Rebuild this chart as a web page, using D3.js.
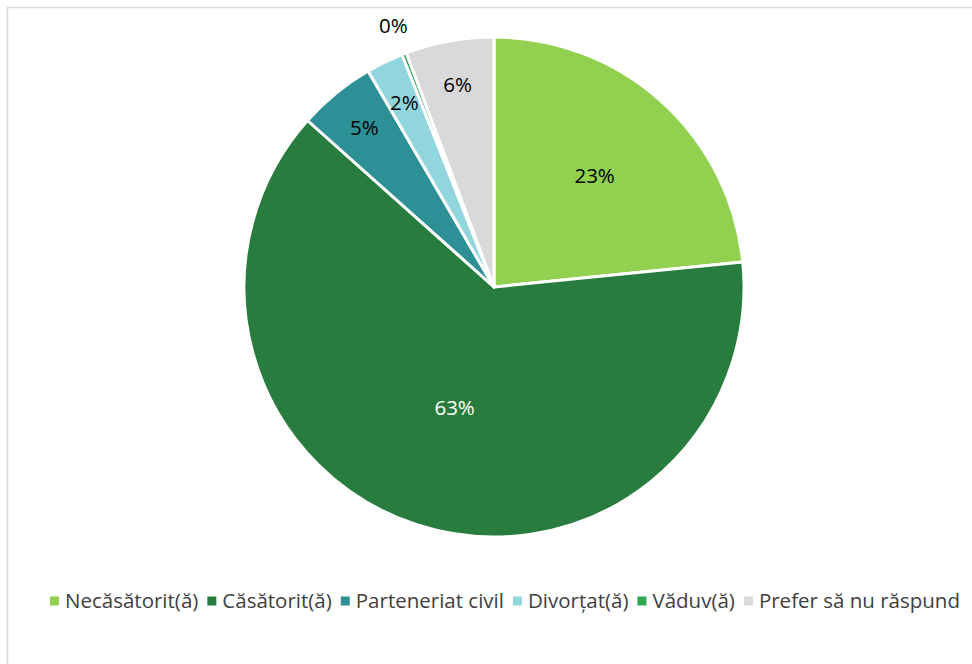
<!DOCTYPE html>
<html>
<head>
<meta charset="utf-8">
<script src="https://cdn.jsdelivr.net/npm/d3@7"></script>
<style>
  html, body { margin: 0; padding: 0; background: #fff; }
  svg { display: block; }
</style>
</head>
<body>
<svg id="chart" width="972" height="664"></svg>
<script>
const categories = ["Necăsătorit(ă)", "Căsătorit(ă)", "Parteneriat civil", "Divorțat(ă)", "Văduv(ă)", "Prefer să nu răspund"];
const values = [23.4, 63.2, 5.0, 2.4, 0.3, 5.7];
const colors = ["#92d050", "#277c3e", "#2e9097", "#92d6dd", "#2ea84f", "#d9d9d9"];
const labelColors = ["#000", "#fff", "#000", "#000", "#000", "#000"];

const svg = d3.select("#chart");
const W = 972, H = 664;
const font = "'Open Sans', sans-serif";

// frame
svg.append("path")
  .attr("d", `M7.5,${H + 5} L7.5,7.5 L${W + 5},7.5`)
  .attr("fill", "none").attr("stroke", "#d9d9d9").attr("stroke-width", 1.5);

const cx = 494, cy = 287, R = 250;
const total = d3.sum(values);
const pie = d3.pie().sort(null).value(d => d)(values);
const arc = d3.arc().innerRadius(0).outerRadius(R);

const g = svg.append("g").attr("transform", `translate(${cx},${cy})`);
g.selectAll("path.slice").data(pie).join("path")
  .attr("class", "slice")
  .attr("d", arc)
  .attr("fill", (d, i) => colors[i])
  .attr("stroke", "#fff").attr("stroke-width", 3).attr("stroke-linejoin", "round");

function labelRadius(d) {
  const f = d.value / total;
  if (f > 0.5) return 0.51 * R;
  if (f > 0.15) return 0.6 * R;
  if (f >= 0.01) return 0.82 * R;
  return 1.12 * R;
}
g.selectAll("text.lbl").data(pie).join("text")
  .attr("class", "lbl")
  .attr("transform", d => {
    const r = labelRadius(d);
    const a = (d.startAngle + d.endAngle) / 2;
    return `translate(${r * Math.sin(a)},${-r * Math.cos(a)})`;
  })
  .attr("text-anchor", "middle").attr("dy", "0.35em")
  .attr("font-family", font).attr("font-size", 20.5)
  .attr("fill", (d, i) => labelColors[i])
  .text(d => Math.round(d.value / total * 100) + "%");

// legend
const lg = svg.append("g");
const legY = 601;
const items = lg.selectAll("g.item").data(categories).join("g").attr("class", "item");
items.append("rect").attr("width", 9).attr("height", 9).attr("y", legY - 4.5)
  .attr("fill", (d, i) => colors[i]);
items.append("text").attr("x", 15).attr("y", legY).attr("dy", "0.35em")
  .attr("font-family", font).attr("font-size", 20.5).attr("fill", "#404040")
  .text(d => d);
let x = 0;
const gap = 9;
const widths = [];
items.each(function() {
  const w = 15 + d3.select(this).select("text").node().getComputedTextLength();
  widths.push(w);
});
const totalW = d3.sum(widths) + gap * (widths.length - 1);
x = (42 + 968) / 2 - totalW / 2;
items.each(function(d, i) {
  d3.select(this).attr("transform", `translate(${x},0)`);
  x += widths[i] + gap;
});
</script>
</body>
</html>
